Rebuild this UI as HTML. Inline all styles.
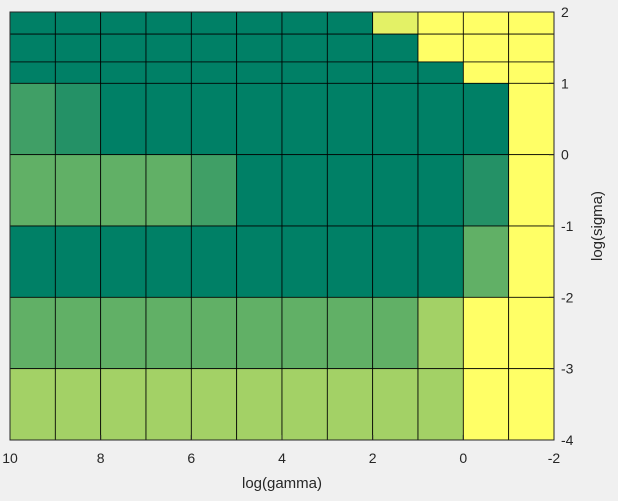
<!DOCTYPE html>
<html><head><meta charset="utf-8"><style>
body{margin:0;background:#f0f0f0;font-family:"Liberation Sans",sans-serif}
</style></head><body>
<svg id="c" width="618" height="496" xmlns="http://www.w3.org/2000/svg"></svg>
<script>
const xEdges=[10,9,8,7,6,5,4,3,2,1,0,-1,-2];
const yEdges=[2,1.69,1.3,1,0,-1,-2,-3,-4];
const values=[
[0,0,0,0,0,0,0,0,0.89,1,1,1],
[0,0,0,0,0,0,0,0,0,1,1,1],
[0,0,0,0,0,0,0,0,0,0,1,1],
[0.25,0.14,0,0,0,0,0,0,0,0,0,1],
[0.38,0.38,0.38,0.38,0.25,0,0,0,0,0,0.14,1],
[0,0,0,0,0,0,0,0,0,0,0.38,1],
[0.38,0.38,0.38,0.38,0.38,0.38,0.38,0.38,0.38,0.64,1,1],
[0.64,0.64,0.64,0.64,0.64,0.64,0.64,0.64,0.64,0.64,1,1]];
const xTicks=[10,8,6,4,2,0,-2];
const yTicks=[2,1,0,-1,-2,-3,-4];
const svg=document.getElementById('c');const NS='http://www.w3.org/2000/svg';
const L=10,R=554,T=12,B=440;
const sx=v=>L+(10-v)/12*(R-L);
const sy=v=>T+(2-v)/6*(B-T);
function col(r){return `rgb(${Math.round(255*r)},${Math.round(255*(0.5+r/2))},102)`;}
function mk(t,a){const e=document.createElementNS(NS,t);for(const k in a)e.setAttribute(k,a[k]);svg.appendChild(e);return e;}
mk('rect',{x:L,y:T,width:R-L,height:B-T,fill:'#fff'});
for(let i=0;i<values.length;i++)for(let j=0;j<values[i].length;j++){
const x0=sx(xEdges[j]),x1=sx(xEdges[j+1]),y0=sy(yEdges[i]),y1=sy(yEdges[i+1]);
const r=mk('rect',{x:x0,y:y0,width:x1-x0,height:y1-y0,fill:col(values[i][j]),stroke:'#000','stroke-width':0.8});


}
mk('rect',{x:L,y:T,width:R-L,height:B-T,fill:'none',stroke:'#262626','stroke-width':1});
xTicks.forEach(v=>{const x=sx(v);
mk('line',{x1:x,x2:x,y1:B,y2:B-5,stroke:'#262626'});
const t=mk('text',{x:x,y:B+23,'text-anchor':'middle','font-size':14,fill:'#262626'});t.textContent=v;

});
yTicks.forEach(v=>{const y=sy(v);
mk('line',{x1:R,x2:R-5,y1:y,y2:y,stroke:'#262626'});
const t=mk('text',{x:R+7,y:y+5,'font-size':14,fill:'#262626'});t.textContent=v;

});
const xl=mk('text',{x:282,y:488,'text-anchor':'middle','font-size':15,fill:'#262626'});xl.textContent='log(gamma)';


const yl=mk('text',{x:602,y:226,'text-anchor':'middle','font-size':15,fill:'#262626',transform:'rotate(-90 602 226)'});yl.textContent='log(sigma)';


</script>
</body></html>
